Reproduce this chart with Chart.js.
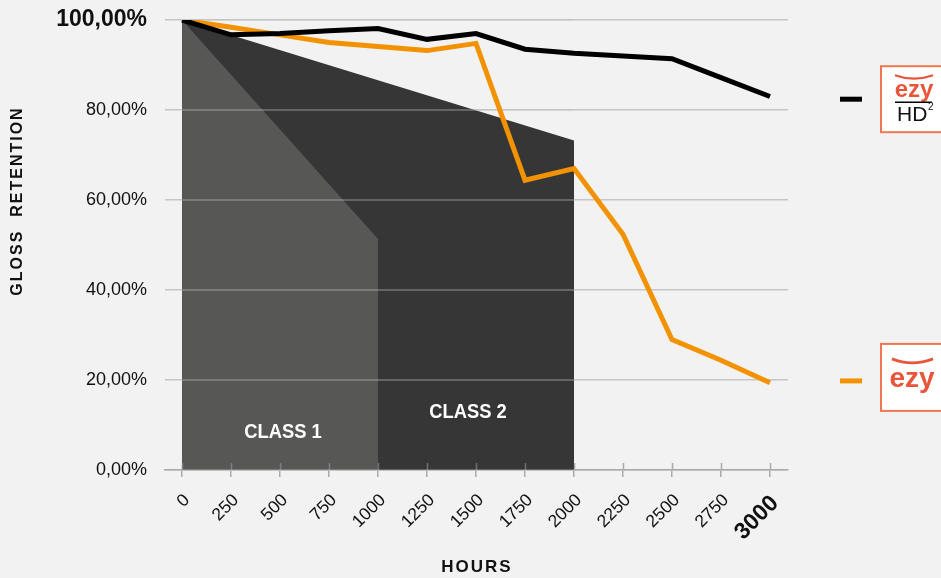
<!DOCTYPE html>
<html><head><meta charset="utf-8">
<script src="https://cdn.jsdelivr.net/npm/chart.js@4.4.1/dist/chart.umd.min.js"></script>
<style>html,body{margin:0;padding:0;background:#f2f2f2;overflow:hidden}</style>
</head><body>
<canvas id="c" width="941" height="578"></canvas>
<script>
const hours = [0,250,500,750,1000,1250,1500,1750,2000,2250,2500,2750,3000];
const ezyHD2 = [100,96.7,97.0,97.6,98.1,95.7,97.0,93.5,92.6,92.0,91.4,87.2,83.0];
const ezy = [100,98.4,96.7,95.0,94.1,93.2,94.8,64.4,67.0,52.4,29.0,24.4,19.4];
const class1Hours = [0,1000];
const class1Limit = [100,51.3];
const class2Hours = [0,2000];
const class2Limit = [100,73.2];
const yTicks = [0,20,40,60,80,100];
const classLabels = ['CLASS 1','CLASS 2'];
const classLabelAt = [[515,8.3],[1459,12.9]];
const markerValues = [82.4,19.8];

const FONT = "'Liberation Sans', Arial, sans-serif";
const LOGO = '#e8553a';
const CLASS1_INDEX = 2;

const toXY = (xs, ys) => xs.map((x,i)=>({x, y: ys[i]}));

function line(ctx,x1,y1,x2,y2){ctx.beginPath();ctx.moveTo(x1,y1);ctx.lineTo(x2,y2);ctx.stroke();}

const decor = {
  id:'decor',
  beforeDatasetsDraw(chart){
    const {ctx, chartArea:a, scales:{x}} = chart;
    ctx.save();
    ctx.strokeStyle = '#aaa'; ctx.lineWidth = 1.5;
    hours.forEach(h=>{const px = Math.round(x.getPixelForValue(h))+0.5; line(ctx,px,a.bottom-7,px,a.bottom);});
    ctx.restore();
  },
  afterDatasetDraw(chart,args){
    if(args.index !== CLASS1_INDEX) return;
    const {ctx, chartArea:a, scales:{x,y}} = chart;
    ctx.save();
    ctx.strokeStyle = 'rgba(198,198,198,0.45)'; ctx.lineWidth = 1.5;
    const right = x.getPixelForValue(class2Hours[1]);
    yTicks.forEach(v=>{const py = y.getPixelForValue(v); line(ctx,x.getPixelForValue(0),py,right,py);});
    ctx.strokeStyle = 'rgba(170,170,170,0.5)';
    hours.forEach(h=>{ if(h<=class2Hours[1]){const px = Math.round(x.getPixelForValue(h))+0.5; line(ctx,px,a.bottom-7,px,a.bottom);} });
    ctx.fillStyle = '#fff';
    ctx.font = 'bold 21px ' + FONT;
    ctx.textAlign = 'center'; ctx.textBaseline = 'middle';
    classLabels.forEach((t,i)=>{
      const px = x.getPixelForValue(classLabelAt[i][0]);
      const py = y.getPixelForValue(classLabelAt[i][1]);
      ctx.save(); ctx.translate(px,py); ctx.scale(0.875,1); ctx.fillText(t,0,0); ctx.restore();
    });
    ctx.restore();
  },
  afterDraw(chart){
    const {ctx, chartArea:a, scales:{x,y}} = chart;
    ctx.save();
    ctx.fillStyle = '#111';
    ctx.font = 'bold 16px ' + FONT;
    ctx.letterSpacing = '2px';
    ctx.textAlign = 'center'; ctx.textBaseline = 'middle';
    ctx.save(); ctx.translate(18, 201); ctx.rotate(-Math.PI/2); ctx.fillText('GLOSS  RETENTION',0,0); ctx.restore();
    ctx.font = 'bold 17px ' + FONT;
    ctx.fillText('HOURS', (x.getPixelForValue(0)+x.getPixelForValue(3000))/2 + 1, 567);
    ctx.letterSpacing = '0px';
    const colors = ['#000','#f39200'];
    markerValues.forEach((v,i)=>{
      const py = y.getPixelForValue(v);
      ctx.strokeStyle = colors[i]; ctx.lineWidth = 5;
      line(ctx, a.right+52, py, a.right+74, py);
      const bx = a.right+92, by = i===0 ? py-34 : py-38, bh = i===0 ? 68 : 69;
      ctx.fillStyle = '#fff'; ctx.fillRect(bx, by, 80, bh);
      ctx.strokeStyle = '#ee7651'; ctx.lineWidth = 2; ctx.strokeRect(bx+1, by+1, 78, bh-2);
      ctx.strokeStyle = LOGO; ctx.fillStyle = LOGO;
      if(i===0){
        ctx.lineWidth = 2.2;
        ctx.beginPath(); ctx.moveTo(bx+15, by+10); ctx.quadraticCurveTo(bx+34, by+17, bx+53, by+10); ctx.stroke();
        ctx.font = 'bold 24px ' + FONT; ctx.textAlign='center'; ctx.textBaseline='alphabetic';
        ctx.fillText('ezy', bx+34, by+32);
        ctx.strokeStyle = '#000'; ctx.lineWidth = 1.5; line(ctx, bx+15, by+37, bx+52, by+37);
        ctx.fillStyle = '#111'; ctx.font = '21px ' + FONT; ctx.textAlign='left';
        ctx.fillText('HD', bx+17, by+56);
        ctx.font = '10px ' + FONT; ctx.fillText('2', bx+48, by+45);
      } else {
        ctx.lineWidth = 2.8;
        ctx.beginPath(); ctx.moveTo(bx+12, by+16); ctx.quadraticCurveTo(bx+32, by+24, bx+53, by+16); ctx.stroke();
        ctx.font = 'bold 28px ' + FONT; ctx.textAlign='center'; ctx.textBaseline='alphabetic';
        ctx.fillText('ezy', bx+32, by+44);
      }
    });
    ctx.restore();
  }
};

new Chart(document.getElementById('c'), {
  type:'line',
  data:{datasets:[
    {label:'ezy HD²', data: toXY(hours, ezyHD2), borderColor:'#000', borderWidth:5, pointRadius:0, fill:false, order:0},
    {label:'ezy', data: toXY(hours, ezy), borderColor:'#f39200', borderWidth:5, pointRadius:0, fill:false, order:1},
    {label:'CLASS 1', data: toXY(class1Hours, class1Limit), borderColor:'transparent', borderWidth:0, backgroundColor:'#575756', fill:'origin', pointRadius:0, order:2},
    {label:'CLASS 2', data: toXY(class2Hours, class2Limit), borderColor:'transparent', borderWidth:0, backgroundColor:'#363636', fill:'origin', pointRadius:0, order:3}
  ]},
  options:{
    responsive:false, animation:false,
    layout:{padding:{top:20,right:153,left:0,bottom:0}},
    plugins:{legend:{display:false}, tooltip:{enabled:false}},
    scales:{
      x:{type:'linear', min:-87, max:3092,
        afterBuildTicks: s=>{ s.ticks = hours.map(v=>({value:v})); },
        afterFit: s=>{ s.height = 108; s.paddingLeft = 0; s.paddingRight = 0; },
        grid:{drawOnChartArea:false, drawTicks:true, tickLength:7, color:'#aaa', lineWidth:1.5},
        border:{display:true, color:'#aaa', width:1.5},
        ticks:{autoSkip:false, maxRotation:45, minRotation:45, padding:13, labelOffset:5, color:'#111',
          font: c => (c.tick && c.tick.value===3000) ? {family:FONT, size:23, weight:'bold'} : {family:FONT, size:17.5},
          callback: v => String(v)}
      },
      y:{min:0, max:100,
        afterBuildTicks: s=>{ s.ticks = yTicks.map(v=>({value:v})); },
        afterFit: s=>{ s.width = 165; s.paddingTop = 0; s.paddingBottom = 0; },
        grid:{color:'#c6c6c6', lineWidth:1.5, drawTicks:false},
        border:{display:false},
        ticks:{padding:18, color:'#111',
          font: c => (c.tick && c.tick.value===100) ? {family:FONT, size:23, weight:'bold'} : {family:FONT, size:18},
          callback: v => v.toFixed(2).replace('.',',') + '%'}
      }
    }
  },
  plugins:[decor]
});
</script>
</body></html>
